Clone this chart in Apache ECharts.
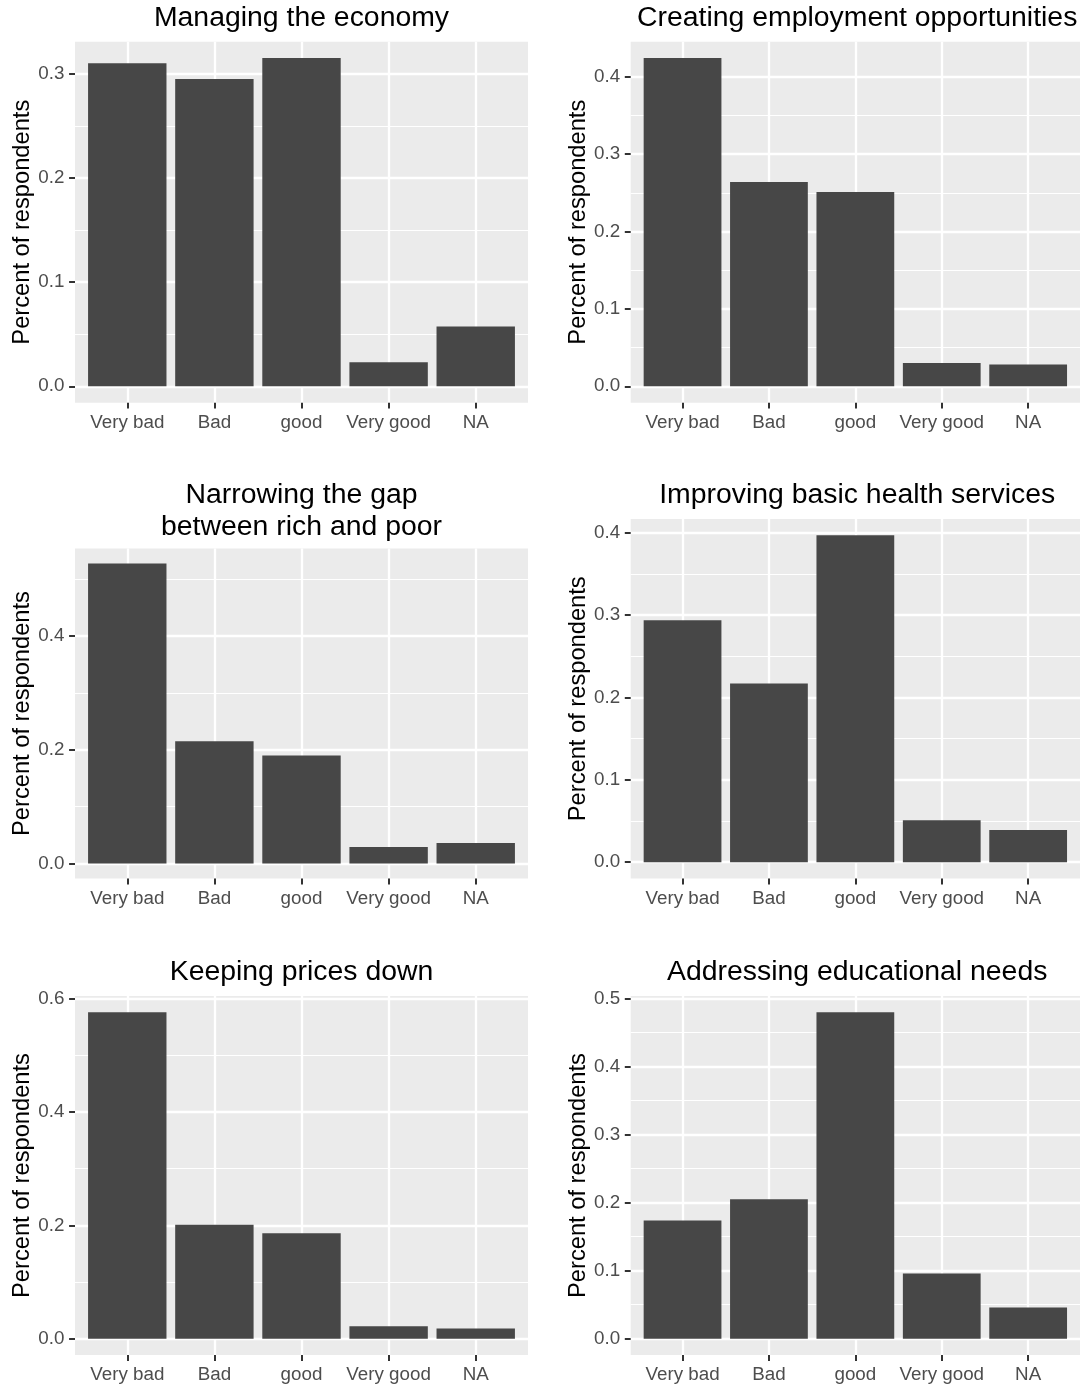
<!DOCTYPE html>
<html>
<head>
<meta charset="utf-8">
<script src="https://cdn.jsdelivr.net/npm/echarts@6/dist/echarts.min.js"></script>
<style>
html,body{margin:0;padding:0;background:#ffffff;}
#chart{width:1080px;height:1388px;}
</style>
</head>
<body>
<div id="chart"></div>
<script>
// ---- data ----
const categories = ['Very bad', 'Bad', 'good', 'Very good', 'NA'];
const panelTitles = [
  'Managing the economy',
  'Creating employment opportunities',
  'Narrowing the gap\nbetween rich and poor',
  'Improving basic health services',
  'Keeping prices down',
  'Addressing educational needs'
];
const yAxisTitle = 'Percent of respondents';

const economy    = [0.310, 0.295, 0.315, 0.023, 0.0575];
const employment = [0.424, 0.264, 0.251, 0.030, 0.028];
const gap        = [0.528, 0.215, 0.190, 0.029, 0.036];
const health     = [0.294, 0.217, 0.397, 0.051, 0.039];
const prices     = [0.576, 0.201, 0.186, 0.022, 0.018];
const education  = [0.174, 0.205, 0.480, 0.096, 0.046];

const ticksEconomy    = [0, 0.1, 0.2, 0.3];
const ticksEmployment = [0, 0.1, 0.2, 0.3, 0.4];
const ticksGap        = [0, 0.2, 0.4];
const ticksHealth     = [0, 0.1, 0.2, 0.3, 0.4];
const ticksPrices     = [0, 0.2, 0.4, 0.6];
const ticksEducation  = [0, 0.1, 0.2, 0.3, 0.4, 0.5];

// ---- layout (pixels) ----
const FONT = "'Liberation Sans', Arial, Helvetica, sans-serif";
const PANEL_W = 453;
const panels = [
  { title: panelTitles[0], values: economy,    ticks: ticksEconomy,    left: 75,    top: 41.7,  height: 361,   titleY: 18 },
  { title: panelTitles[1], values: employment, ticks: ticksEmployment, left: 630.7, top: 41.7,  height: 361,   titleY: 18 },
  { title: panelTitles[2], values: gap,        ticks: ticksGap,        left: 75,    top: 548.5, height: 330,   titleY: 511 },
  { title: panelTitles[3], values: health,     ticks: ticksHealth,     left: 630.7, top: 519,   height: 359.5, titleY: 495 },
  { title: panelTitles[4], values: prices,     ticks: ticksPrices,     left: 75,    top: 996,   height: 359,   titleY: 971.7 },
  { title: panelTitles[5], values: education,  ticks: ticksEducation,  left: 630.7, top: 996,   height: 359,   titleY: 971.7 }
];

const catIdx = categories.map((c, i) => i);
const tickLine = { color: '#333333', width: 2 };

const option = {
  animation: false,
  backgroundColor: '#ffffff',
  title: [], grid: [], xAxis: [], yAxis: [], series: []
};

panels.forEach((p, i) => {
  const vmax = Math.max(...p.values);
  const lo = -0.05 * vmax;
  const hi = 1.05 * vmax;
  const step = p.ticks[1] - p.ticks[0];
  const minors = [];
  p.ticks.forEach(t => {
    const m = Math.round((t + step / 2) * 1000) / 1000;
    if (m < hi) minors.push(m);
  });

  option.grid.push({
    left: p.left, top: p.top, width: PANEL_W, height: p.height,
    show: true, backgroundColor: '#EBEBEB', borderWidth: 0
  });

  option.title.push({
    text: p.title,
    left: p.left + PANEL_W / 2,
    top: p.titleY,
    textAlign: 'center',
    textVerticalAlign: 'middle',
    padding: 0,
    textStyle: { fontFamily: FONT, fontSize: 28.4, fontWeight: 'normal', color: '#000000', lineHeight: 31.7 }
  });

  option.xAxis.push({
    type: 'value', gridIndex: i,
    min: -0.6, max: categories.length - 0.4,
    axisLine: { show: false, onZero: false },
    axisTick: { show: true, length: 5.9, lineStyle: tickLine, customValues: catIdx },
    axisLabel: {
      customValues: catIdx,
      formatter: v => categories[Math.round(v)],
      margin: 10.6, color: '#4D4D4D', fontSize: 18.8, fontFamily: FONT
    },
    splitLine: { show: true, lineStyle: { color: '#ffffff', width: 2.3 } }
  });

  option.yAxis.push({
    type: 'value', gridIndex: i, position: 'left',
    min: lo, max: hi,
    name: yAxisTitle, nameLocation: 'middle', nameRotate: 90, nameGap: 39,
    nameTextStyle: { fontFamily: FONT, fontSize: 23.7, color: '#000000' },
    axisLine: { show: false, onZero: false },
    axisTick: { show: true, length: 5.9, lineStyle: tickLine, customValues: p.ticks },
    axisLabel: {
      customValues: p.ticks,
      formatter: v => v.toFixed(1),
      margin: 10.6, color: '#4D4D4D', fontSize: 18.8, fontFamily: FONT
    },
    splitLine: { show: true, lineStyle: { color: '#ffffff', width: 2.3 } }
  });

  option.yAxis.push({
    type: 'value', gridIndex: i, position: 'left',
    min: lo, max: hi,
    axisLine: { show: false, onZero: false },
    axisTick: { show: false, customValues: minors },
    axisLabel: { show: false, customValues: minors },
    splitLine: { show: true, lineStyle: { color: '#ffffff', width: 1.15 } }
  });

  option.series.push({
    type: 'bar',
    xAxisIndex: i,
    yAxisIndex: 2 * i,
    data: p.values.map((v, k) => [k, v]),
    barWidth: '90%',
    itemStyle: { color: '#474747' },
    silent: true
  });
});

const chart = echarts.init(document.getElementById('chart'), null, { renderer: 'canvas' });
chart.setOption(option);
</script>
</body>
</html>
